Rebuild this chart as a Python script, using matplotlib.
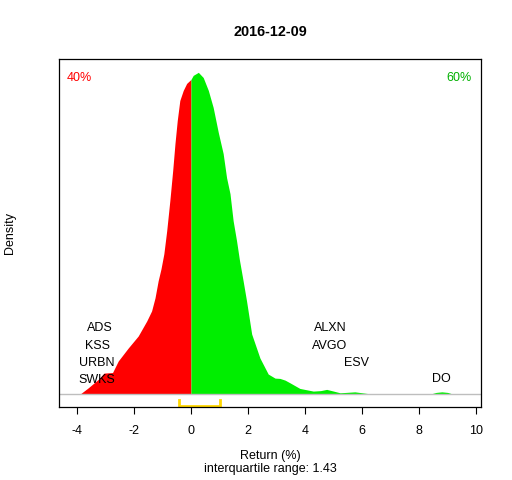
import numpy as np
import matplotlib
matplotlib.use('Agg')
import matplotlib.pyplot as plt

plt.rcParams['font.family'] = ['Liberation Sans', 'DejaVu Sans']
plt.rcParams['axes.unicode_minus'] = False

title = '2016-12-09'

# density left of zero (negative returns)
x_neg = [-3.89, -3.60, -3.25, -3.05, -2.75, -2.55, -2.20, -1.85, -1.55, -1.38, -1.26,
         -1.15, -1.05, -0.95, -0.85, -0.74, -0.64, -0.56, -0.48, -0.39, -0.27, -0.15, 0.0]
d_neg = [0.0, 0.0067, 0.0156, 0.0222, 0.0228, 0.035, 0.0487, 0.0614, 0.0773, 0.0879, 0.1017,
         0.1197, 0.1324, 0.1483, 0.1726, 0.2044, 0.2362, 0.2648, 0.2891, 0.3103, 0.3209, 0.3283, 0.3325]

# density right of zero (positive returns)
x_pos = [0.0, 0.08, 0.26, 0.43, 0.61, 0.78, 0.96, 1.13, 1.25, 1.37, 1.48, 1.60, 1.70, 1.83,
         1.95, 2.13, 2.42, 2.71, 2.95, 3.12, 3.30, 3.47, 3.82, 4.29, 4.55, 4.76, 5.0, 5.23,
         5.75, 6.28, 6.4]
d_pos = [0.3325, 0.3368, 0.340, 0.3346, 0.3209, 0.3029, 0.2764, 0.2542, 0.2287, 0.2118,
         0.1832, 0.162, 0.1419, 0.1197, 0.0985, 0.0635, 0.0381, 0.0212, 0.0169, 0.0166,
         0.0148, 0.012, 0.006, 0.0032, 0.0037, 0.005, 0.0032, 0.0014, 0.0024, 0.0003, 0.0]

# small bump far out (DO)
x_far = [8.39, 8.6, 8.8, 9.0, 9.19]
d_far = [0.0, 0.0018, 0.0024, 0.0018, 0.0]

# outlier names
left_names = ['ADS', 'KSS', 'URBN', 'SWKS']
left_x = [-3.19, -3.26, -3.30, -3.30]
left_y = [0.0699, 0.0508, 0.0328, 0.0148]
right_names = ['ALXN', 'AVGO', 'ESV', 'DO']
right_x = [4.88, 4.88, 5.82, 8.77]
right_y = [0.0699, 0.0508, 0.0328, 0.0159]

pct_neg = '40%'
pct_pos = '60%'
q1, q3 = -0.41, 1.02
iqr_text = 'interquartile range: 1.43'

fs = 9

fig = plt.figure(figsize=(5.12, 4.8), dpi=100)
ax = fig.add_axes([0.1162, 0.1521, 0.8242, 0.7240])

ax.fill_between(x_neg, d_neg, 0, color='#FF0000', lw=0)
ax.fill_between(x_pos, d_pos, 0, color='#00EE00', lw=0)
ax.fill_between(x_far, d_far, 0, color='#00EE00', lw=0)
ax.axhline(0, color='#BEBEBE', lw=1)

for n, x, y in zip(left_names, left_x, left_y):
    ax.text(x, y, n, ha='center', va='center', fontsize=fs)
for n, x, y in zip(right_names, right_x, right_y):
    ax.text(x, y, n, ha='center', va='center', fontsize=fs)

ax.text(0.018, 0.947, pct_neg, color='#FF0000', transform=ax.transAxes,
        ha='left', va='center', fontsize=fs)
ax.text(0.977, 0.947, pct_pos, color='#00B000', transform=ax.transAxes,
        ha='right', va='center', fontsize=fs)

# iqr bracket
ax.plot([q1, q1, q3, q3], [-0.0064, -0.0130, -0.0130, -0.0064], color='#FFD700',
        lw=2, clip_on=False, solid_joinstyle='miter')

ax.set_xlim(-4.61, 10.19)
ax.set_ylim(-0.0136, 0.3536)
ax.set_xticks([-4, -2, 0, 2, 4, 6, 8, 10])
ax.set_yticks([])
ax.tick_params(axis='x', length=5.2, width=0.8, pad=8, labelsize=fs)
for s in ax.spines.values():
    s.set_linewidth(0.9)

fig.text(0.528, 0.933, title, ha='center', va='center', fontsize=10.4, fontweight='bold')
fig.text(0.528, 0.050, 'Return (%)', ha='center', va='center', fontsize=fs)
fig.text(0.528, 0.0229, iqr_text, ha='center', va='center', fontsize=fs)
fig.text(0.0195, 0.515, 'Density', ha='center', va='center', rotation=90, fontsize=fs)

fig.savefig('out.png', dpi=100)
